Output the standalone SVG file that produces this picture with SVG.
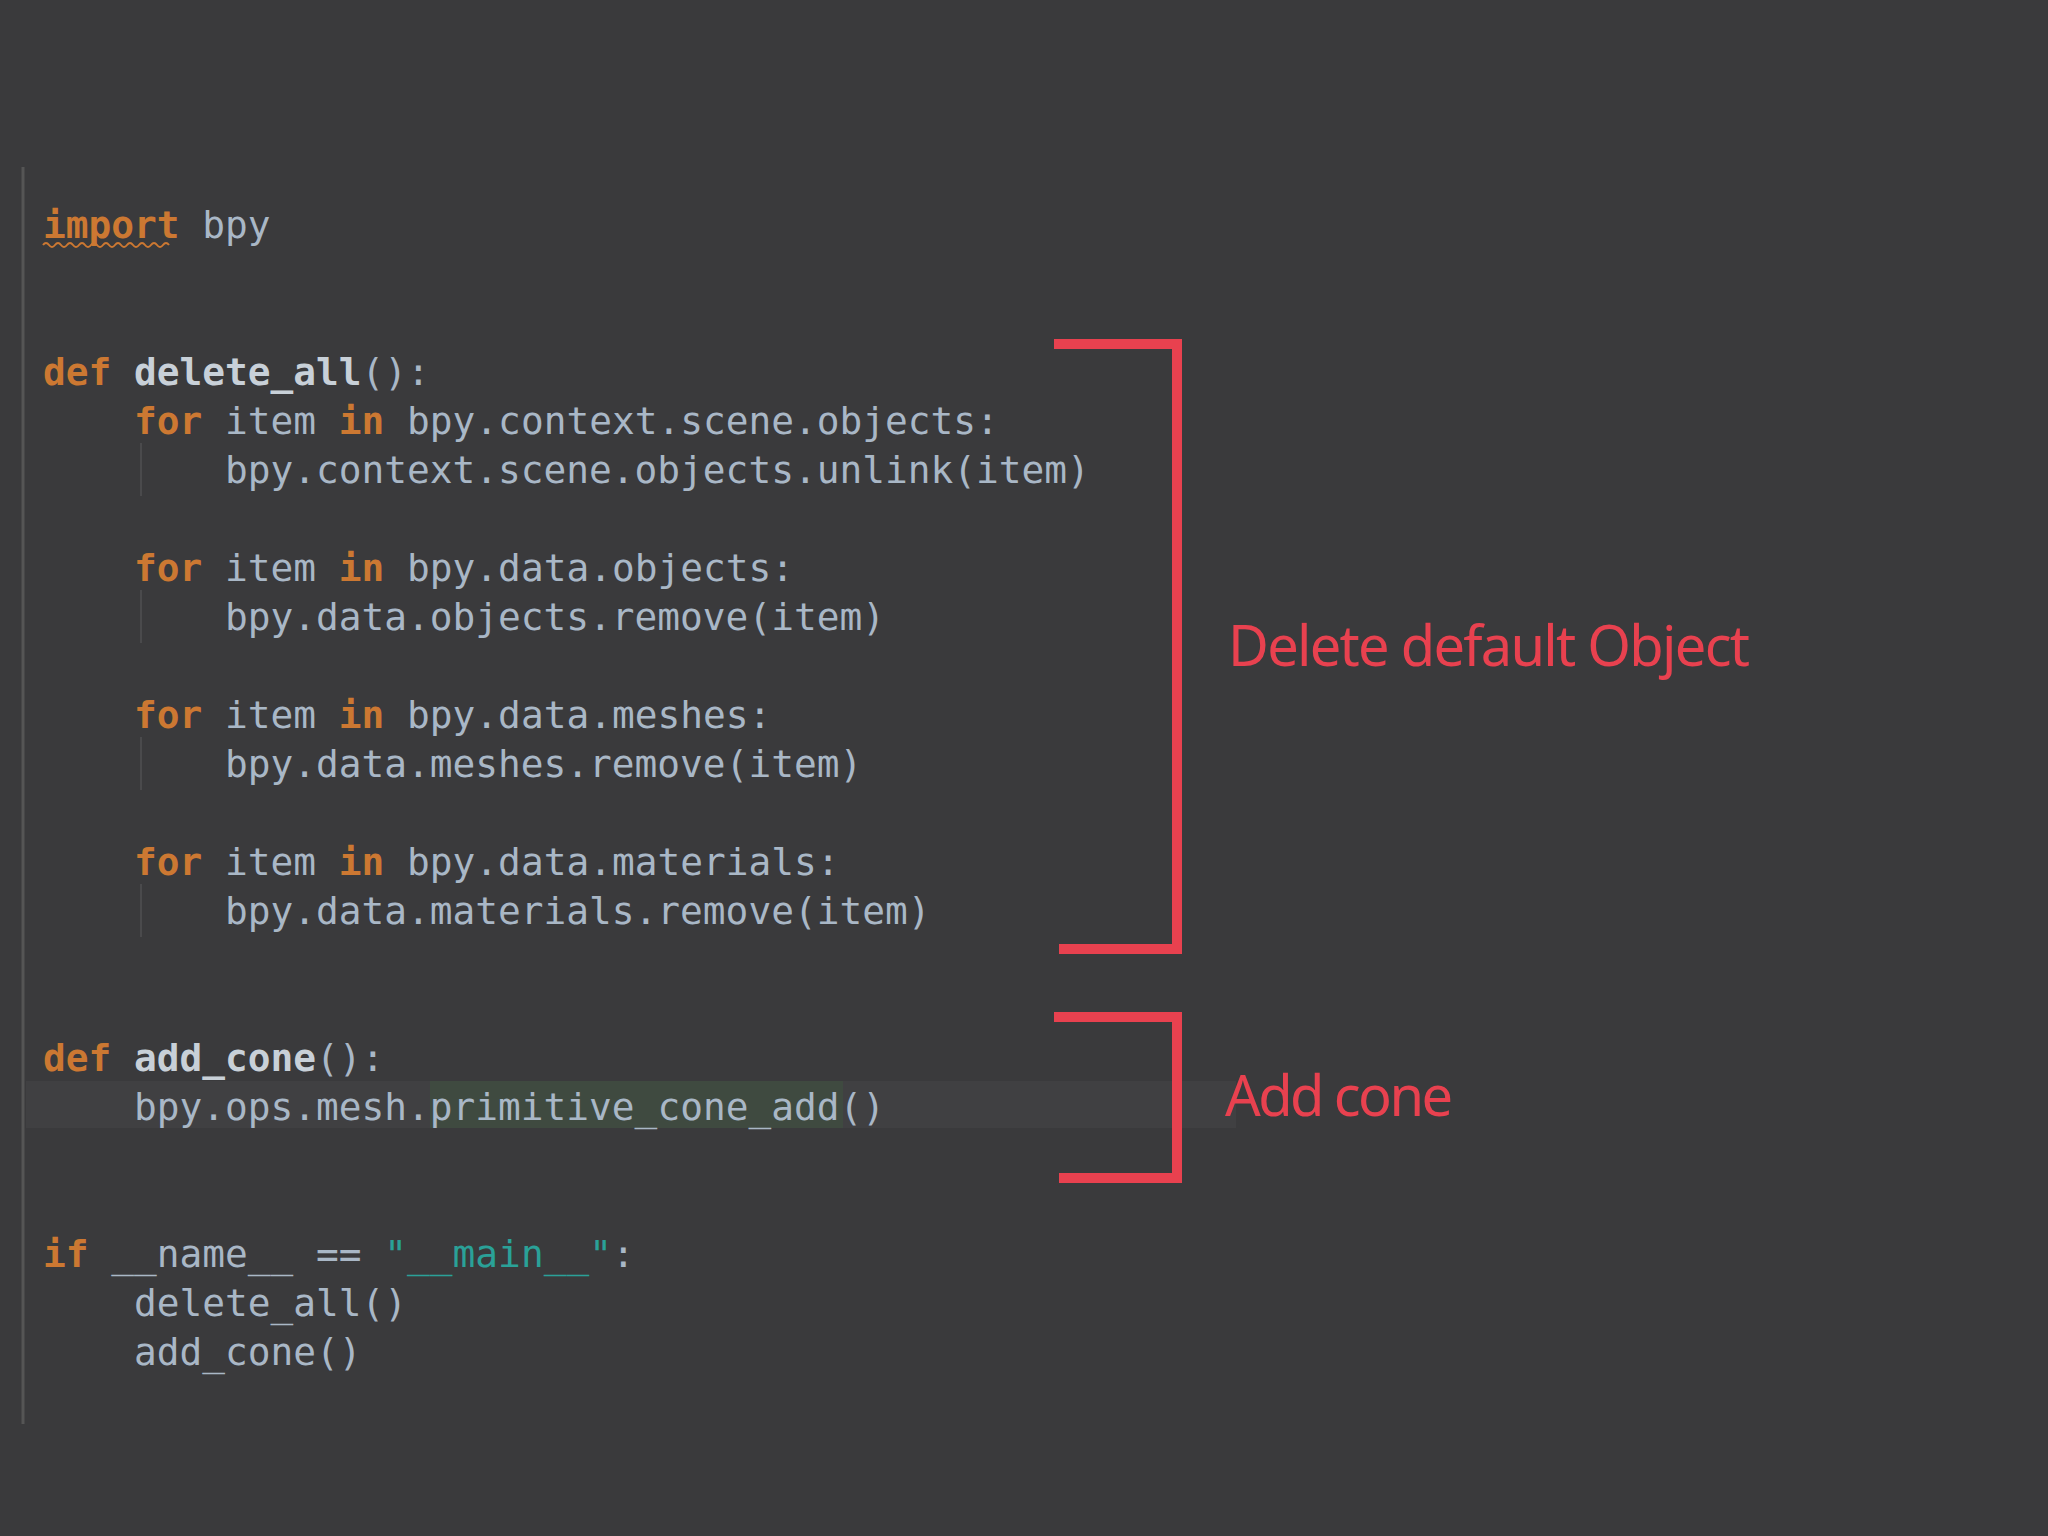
<svg xmlns="http://www.w3.org/2000/svg" width="2048" height="1536" viewBox="0 0 2048 1536">
<style>
.c{font-family:"DejaVu Sans Mono","Liberation Mono",monospace;font-size:37.8px;fill:#a9b7c6;white-space:pre}
.k{fill:#cc7832;font-weight:bold}
.b{font-weight:bold;fill:#c8d0d8}
.s{fill:#2aa198}
.br{fill:none;stroke:#e8414f;stroke-width:10}
.lbl{font-family:"Noto Sans","Open Sans",sans-serif;font-size:56px;fill:#e8414f}
.g{stroke:#4a4a4c;stroke-width:2}
</style>
<rect width="2048" height="1536" fill="#3a3a3c"/>
<rect x="26" y="1081" width="1210" height="47" fill="#404042"/>
<rect x="430" y="1081" width="413" height="47" fill="#3f4a40"/>
<line x1="23" y1="167" x2="23" y2="1424" stroke="#555" stroke-width="3"/>
<g class="g">
<line x1="141" y1="443" x2="141" y2="496"/><line x1="141" y1="590" x2="141" y2="643"/>
<line x1="141" y1="737" x2="141" y2="790"/><line x1="141" y1="884" x2="141" y2="937"/>
</g>
<path d="M43 245 q3 -4 6 0 t6 0 t6 0 t6 0 t6 0 t6 0 t6 0 t6 0 t6 0 t6 0 t6 0 t6 0 t6 0 t6 0 t6 0 t6 0 t6 0 t6 0 t6 0 t6 0 t6 0" fill="none" stroke="#cc7832" stroke-width="2"/>
<g id="code" class="c">
<text x="43" y="238"><tspan class="k">import</tspan> bpy</text>
<text x="43" y="385"><tspan class="k">def</tspan> <tspan class="b">delete_all</tspan>():</text>
<text x="134" y="434"><tspan class="k">for</tspan> item <tspan class="k">in</tspan> bpy.context.scene.objects:</text>
<text x="225" y="483">bpy.context.scene.objects.unlink(item)</text>
<text x="134" y="581"><tspan class="k">for</tspan> item <tspan class="k">in</tspan> bpy.data.objects:</text>
<text x="225" y="630">bpy.data.objects.remove(item)</text>
<text x="134" y="728"><tspan class="k">for</tspan> item <tspan class="k">in</tspan> bpy.data.meshes:</text>
<text x="225" y="777">bpy.data.meshes.remove(item)</text>
<text x="134" y="875"><tspan class="k">for</tspan> item <tspan class="k">in</tspan> bpy.data.materials:</text>
<text x="225" y="924">bpy.data.materials.remove(item)</text>
<text x="43" y="1071"><tspan class="k">def</tspan> <tspan class="b">add_cone</tspan>():</text>
<text x="134" y="1120">bpy.ops.mesh.primitive_cone_add()</text>
<text x="43" y="1267"><tspan class="k">if</tspan> __name__ == <tspan class="s">"__main__"</tspan>:</text>
<text x="134" y="1316">delete_all()</text>
<text x="134" y="1365">add_cone()</text>
</g>
<g id="bracket1">
<path class="br" d="M1054 344 H1177 V949 H1059"/>
<text class="lbl" x="1228" y="666" textLength="522">Delete default Object</text>
</g>
<g id="bracket2">
<path class="br" d="M1054 1017 H1177 V1178 H1059"/>
<text class="lbl" x="1225" y="1116" textLength="228">Add cone</text>
</g>
</svg>
